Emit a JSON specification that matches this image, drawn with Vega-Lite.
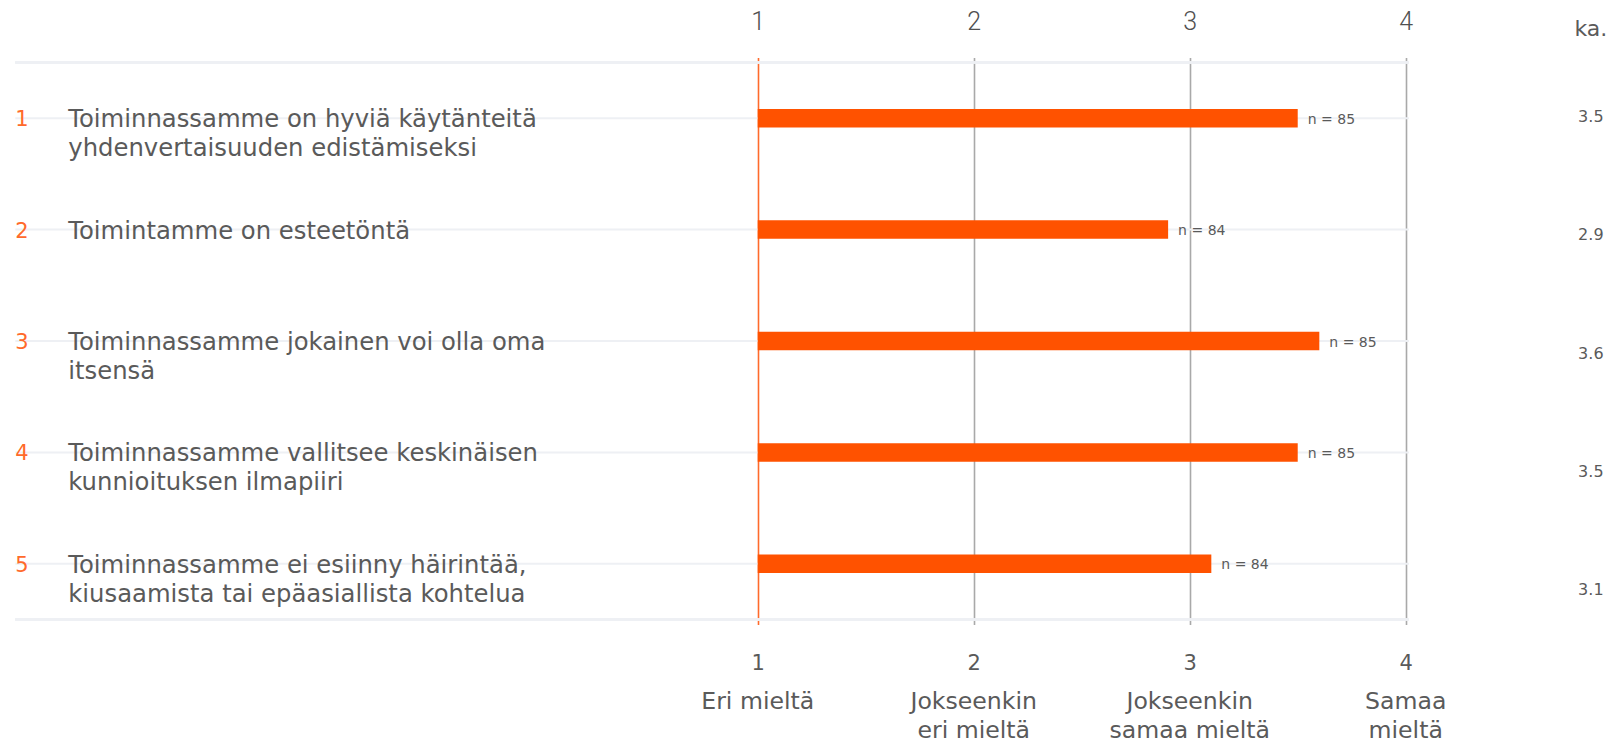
{
  "$schema": "https://vega.github.io/schema/vega-lite/v6.json",
  "autosize": {"type": "none"},
  "width": 1612,
  "height": 567,
  "padding": {"left": 0, "top": 57.5, "right": 0, "bottom": 119.5},
  "background": "white",
  "config": {
    "view": {"stroke": null},
    "axis": {
      "domain": false,
      "ticks": false,
      "labelFont": "DejaVu Sans",
      "labelFontSize": 21,
      "labelColor": "#5a5a5a",
      "title": null
    }
  },
  "datasets": {
    "rows": [
      {"row": 1, "label": "Toiminnassamme on hyviä käytänteitä\nyhdenvertaisuuden edistämiseksi", "ka": 3.5, "n": 85},
      {"row": 2, "label": "Toimintamme on esteetöntä", "ka": 2.9, "n": 84},
      {"row": 3, "label": "Toiminnassamme jokainen voi olla oma\nitsensä", "ka": 3.6, "n": 85},
      {"row": 4, "label": "Toiminnassamme vallitsee keskinäisen\nkunnioituksen ilmapiiri", "ka": 3.5, "n": 85},
      {"row": 5, "label": "Toiminnassamme ei esiinny häirintää,\nkiusaamista tai epäasiallista kohtelua", "ka": 3.1, "n": 84}
    ],
    "scale": [
      {"v": 1, "t": "Eri mieltä"},
      {"v": 2, "t": "Jokseenkin\neri mieltä"},
      {"v": 3, "t": "Jokseenkin\nsamaa mieltä"},
      {"v": 4, "t": "Samaa\nmieltä"}
    ]
  },
  "data": {"name": "rows"},
  "resolve": {"scale": {"y": "independent"}, "axis": {"x": "independent"}},
  "layer": [
    {
      "resolve": {"axis": {"x": "independent"}},
      "layer": [
        {
          "mark": {"type": "rule", "color": "#eef0f4", "strokeWidth": 2},
          "encoding": {
            "y": {"field": "row", "type": "quantitative", "scale": {"domain": [0.5, 5.5], "reverse": true, "nice": false, "zero": false}, "axis": null},
            "x": {"datum": -2.437, "type": "quantitative", "scale": {"domain": [-2.508, 4.955], "nice": false, "zero": false}, "axis": null},
            "x2": {"datum": 4.015}
          }
        },
        {
          "mark": {"type": "rule", "color": "#eef0f4", "strokeWidth": 2},
          "encoding": {
            "y": {"datum": 0.5, "type": "quantitative", "axis": null},
            "x": {"datum": -2.437, "type": "quantitative", "axis": null},
            "x2": {"datum": 4.015}
          }
        },
        {
          "mark": {"type": "rule", "color": "#eef0f4", "strokeWidth": 2},
          "encoding": {
            "y": {"datum": 5.5, "type": "quantitative", "axis": null},
            "x": {"datum": -2.437, "type": "quantitative", "axis": null},
            "x2": {"datum": 4.015}
          }
        },
        {
          "mark": {"type": "bar", "color": "#ff5200", "size": 18.5},
          "encoding": {
            "y": {"field": "row", "type": "quantitative", "axis": null},
            "x": {
              "field": "ka", "type": "quantitative",
              "axis": {
                "orient": "bottom",
                "values": [1, 2, 3, 4],
                "grid": true,
                "gridWidth": 1.6,
                "gridColor": {"condition": {"test": "datum.value === 1", "value": "#ff6a2b"}, "value": "#a9a9a9"},
                "labelPadding": 28,
                "labelBaseline": "top"
              }
            },
            "x2": {"datum": 1}
          }
        },
        {
          "transform": [{"calculate": "'n = ' + datum.n", "as": "nt"}],
          "mark": {"type": "text", "align": "left", "baseline": "middle", "dx": 10, "dy": 1.5, "font": "DejaVu Sans", "fontSize": 14, "color": "#5a5a5a"},
          "encoding": {
            "y": {"field": "row", "type": "quantitative", "axis": null},
            "x": {
              "field": "ka", "type": "quantitative",
              "axis": {"orient": "top", "values": [1, 2, 3, 4], "grid": false, "labelPadding": 23, "labelBaseline": "bottom", "labelFont": "Roboto", "labelFontWeight": 300, "labelFontSize": 25, "labelColor": "#505050"}
            },
            "text": {"field": "nt"}
          }
        },
        {
          "mark": {"type": "text", "align": "left", "baseline": "middle", "dy": 2, "font": "DejaVu Sans", "fontSize": 21, "color": "#ff6a2b"},
          "encoding": {
            "y": {"field": "row", "type": "quantitative", "axis": null},
            "x": {"datum": -2.437, "type": "quantitative", "axis": null},
            "text": {"field": "row"}
          }
        },
        {
          "mark": {"type": "text", "align": "left", "baseline": "middle", "dy": 2, "font": "DejaVu Sans", "fontSize": 24.3, "lineHeight": 29, "lineBreak": "\n", "color": "#5a5a5a"},
          "encoding": {
            "y": {"field": "row", "type": "quantitative", "axis": null},
            "x": {"datum": -2.192, "type": "quantitative", "axis": null},
            "text": {"field": "label"}
          }
        },
        {
          "data": {"values": [{"h": "ka."}]},
          "mark": {"type": "text", "align": "center", "baseline": "middle", "font": "DejaVu Sans", "fontSize": 22, "color": "#5a5a5a"},
          "encoding": {
            "y": {"datum": 0.2, "type": "quantitative", "axis": null},
            "x": {"datum": 4.857, "type": "quantitative", "axis": null},
            "text": {"field": "h"}
          }
        },
        {
          "data": {"name": "scale"},
          "mark": {"type": "text", "align": "center", "baseline": "top", "font": "DejaVu Sans", "fontSize": 23.6, "lineHeight": 29, "lineBreak": "\n", "color": "#5a5a5a"},
          "encoding": {
            "y": {"datum": 6.135, "type": "quantitative", "axis": null},
            "x": {"field": "v", "type": "quantitative", "axis": null},
            "text": {"field": "t"}
          }
        }
      ]
    },
    {
      "mark": {"type": "text", "align": "center", "baseline": "middle", "dy": 1, "font": "DejaVu Sans", "fontSize": 16, "color": "#5a5a5a"},
      "encoding": {
        "y": {"field": "row", "type": "quantitative", "scale": {"domain": [0.5055, 5.2985], "reverse": true, "nice": false, "zero": false}, "axis": null},
        "x": {"datum": 4.857, "type": "quantitative", "axis": null},
        "text": {"field": "ka", "format": ".1f"}
      }
    }
  ]
}
